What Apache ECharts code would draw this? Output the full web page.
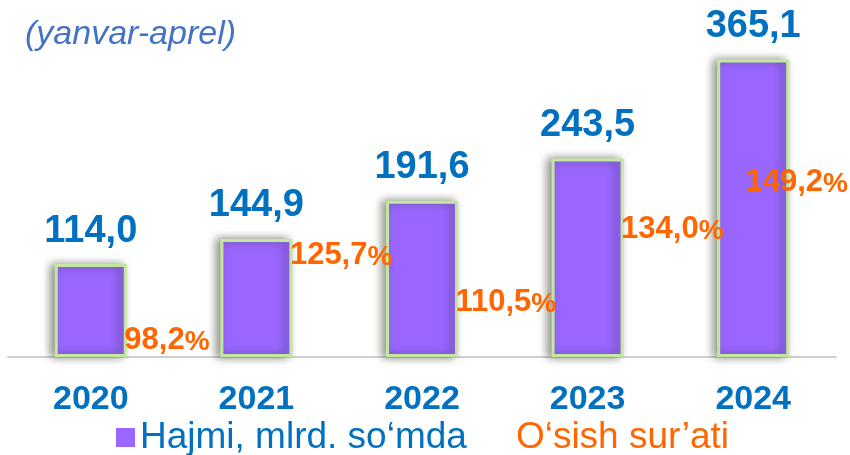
<!DOCTYPE html>
<html>
<head>
<meta charset="utf-8">
<script src="https://cdn.jsdelivr.net/npm/echarts@6/dist/echarts.min.js"></script>
<style>
  html, body { margin: 0; padding: 0; background: #fff; }
  #chart { width: 850px; height: 455px; }
</style>
</head>
<body>
<div id="chart"></div>
<script>
// Data
const years = ['2020', '2021', '2022', '2023', '2024'];
const volume = [114.0, 144.9, 191.6, 243.5, 365.1];
const growth = [98.2, 125.7, 110.5, 134.0, 149.2];
const seriesNames = ['Hajmi, mlrd. so‘mda', 'O‘sish sur’ati'];
const subtitle = '(yanvar-aprel)';

const blue = '#0070c0';
const orange = '#ff6600';

function fmt(v) {
    return v.toFixed(1).replace('.', ',');
}

const chart = echarts.init(document.getElementById('chart'));
chart.setOption({
    animation: false,
    textStyle: { fontFamily: 'Liberation Sans, Arial, sans-serif' },
    title: {
        text: subtitle,
        left: 25,
        top: 18,
        padding: 0,
        textStyle: {
            fontSize: 34,
            fontStyle: 'italic',
            fontWeight: 'normal',
            color: '#4472c4'
        }
    },
    legend: {
        left: 116,
        top: 419,
        padding: 0,
        itemWidth: 19,
        itemHeight: 19,
        itemGap: 25,
        textStyle: { fontSize: 37 },
        data: [
            {
                name: seriesNames[0],
                icon: 'rect',
                itemStyle: { color: '#9966ff', borderWidth: 0, shadowBlur: 0, shadowColor: 'transparent' },
                textStyle: { color: blue, fontSize: 37 }
            },
            {
                name: seriesNames[1],
                icon: 'none',
                textStyle: { color: orange, fontSize: 37 }
            }
        ]
    },
    grid: { left: 8, right: 14, top: 31, bottom: 98, outerBoundsMode: 'none' },
    xAxis: {
        type: 'category',
        data: years,
        axisLine: { lineStyle: { color: '#d0d0d0', width: 2 } },
        axisTick: { show: false },
        axisLabel: {
            margin: 26,
            fontSize: 34,
            fontWeight: 'bold',
            color: blue
        }
    },
    yAxis: [
        { type: 'value', min: 0, max: 400, show: false },
        { type: 'value', min: 93, max: 198, show: false }
    ],
    series: [
        {
            name: seriesNames[0],
            type: 'bar',
            data: volume,
            barWidth: 72,
            itemStyle: {
                color: '#9966ff',
                borderColor: '#c3e6a0',
                borderWidth: 3,
                shadowColor: 'rgba(40, 50, 30, 0.55)',
                shadowBlur: 9,
                shadowOffsetX: -4
            },
            label: {
                show: true,
                position: 'top',
                distance: 14,
                fontSize: 38,
                fontWeight: 'bold',
                color: blue,
                formatter: p => fmt(p.value)
            },
            emphasis: { disabled: true }
        },
        {
            name: seriesNames[1],
            type: 'line',
            yAxisIndex: 1,
            data: growth,
            symbol: 'circle',
            symbolSize: 1,
            itemStyle: { color: 'rgba(0,0,0,0)' },
            lineStyle: { width: 0, opacity: 0 },
            label: {
                show: true,
                position: 'right',
                distance: 33,
                formatter: p => '{n|' + fmt(p.value) + '}{p|%}',
                rich: {
                    n: { fontSize: 31, fontWeight: 'bold', color: orange, verticalAlign: 'bottom' },
                    p: { fontSize: 28, fontWeight: 'bold', color: orange, verticalAlign: 'bottom' }
                }
            },
            labelLayout: function (params) {
                const r = params.labelRect;
                const limit = chart.getWidth() - 2;
                if (r.x + r.width > limit) {
                    return { dx: limit - (r.x + r.width) };
                }
                return {};
            },
            emphasis: { disabled: true },
            z: 5
        }
    ]
});

window.addEventListener('resize', function () {
    chart.resize();
});
</script>
</body>
</html>
